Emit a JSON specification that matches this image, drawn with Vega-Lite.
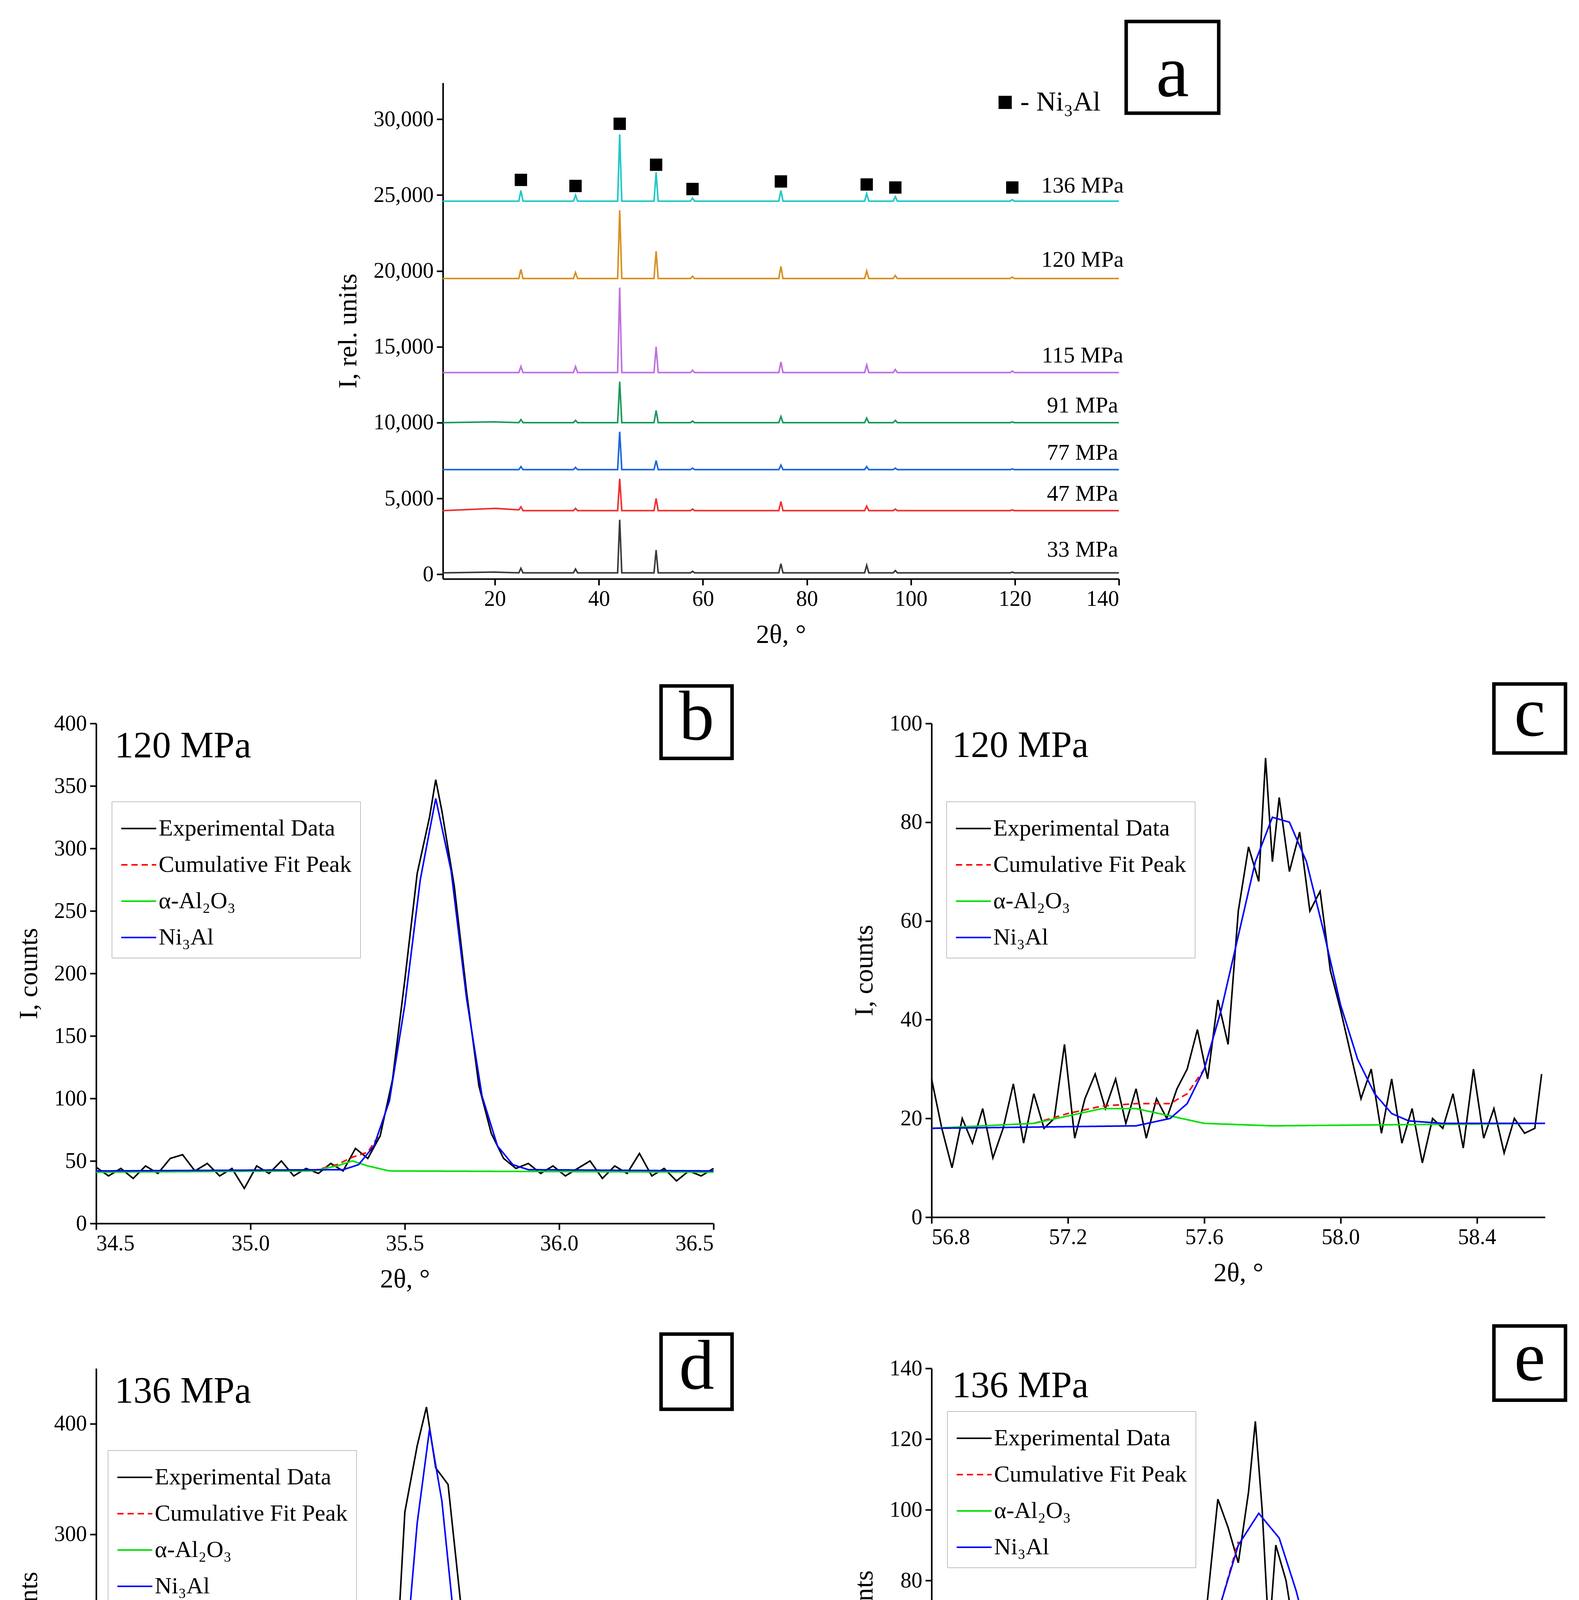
{
"$schema":"https://vega.github.io/schema/vega-lite/v6.json",
"background":"white",
"padding":{"left":40,"top":50,"right":40,"bottom":20},
"config":{"font":"Liberation Serif","view":{"stroke":null},
"axis":{"domainColor":"black","domainWidth":4,"tickColor":"black","tickWidth":4,"tickSize":16,"labelFontSize":56,"titleFontSize":68,"titleFontWeight":"normal","labelColor":"black","titleColor":"black","grid":false,"labelPadding":8,"titlePadding":30},
"legend":{"labelFontSize":60,"labelLimit":3000,"symbolType":"stroke","symbolSize":8000,"symbolStrokeWidth":4,"strokeColor":"#888888","padding":22,"rowPadding":16,"labelColor":"black"},
"text":{"font":"Liberation Serif","color":"black"}},
"datasets":{
"xrd":[
{"x":10,"s136":24600,"s120":19500,"s115":13300,"s91":10000,"s77":6900,"s47":4200,"s33":100},
{"x":20,"s136":24600,"s120":19500,"s115":13300,"s91":10050,"s77":6900,"s47":4350,"s33":150},
{"x":24.6,"s136":24600,"s120":19500,"s115":13300,"s91":10000,"s77":6900,"s47":4250,"s33":100},
{"x":25,"s136":25300,"s120":20100,"s115":13700,"s91":10200,"s77":7100,"s47":4450,"s33":400},
{"x":25.4,"s136":24600,"s120":19500,"s115":13300,"s91":10000,"s77":6900,"s47":4200,"s33":100},
{"x":35.1,"s136":24600,"s120":19500,"s115":13300,"s91":10000,"s77":6900,"s47":4200,"s33":100},
{"x":35.5,"s136":25000,"s120":19900,"s115":13700,"s91":10150,"s77":7050,"s47":4350,"s33":350},
{"x":35.9,"s136":24600,"s120":19500,"s115":13300,"s91":10000,"s77":6900,"s47":4200,"s33":100},
{"x":43.6,"s136":24600,"s120":19500,"s115":13300,"s91":10000,"s77":6900,"s47":4200,"s33":100},
{"x":44,"s136":29000,"s120":24000,"s115":18900,"s91":12700,"s77":9400,"s47":6300,"s33":3600},
{"x":44.4,"s136":24600,"s120":19500,"s115":13300,"s91":10000,"s77":6900,"s47":4200,"s33":100},
{"x":50.6,"s136":24600,"s120":19500,"s115":13300,"s91":10000,"s77":6900,"s47":4200,"s33":100},
{"x":51,"s136":26500,"s120":21300,"s115":15000,"s91":10800,"s77":7500,"s47":5000,"s33":1600},
{"x":51.4,"s136":24600,"s120":19500,"s115":13300,"s91":10000,"s77":6900,"s47":4200,"s33":100},
{"x":57.6,"s136":24600,"s120":19500,"s115":13300,"s91":10000,"s77":6900,"s47":4200,"s33":100},
{"x":58,"s136":24800,"s120":19650,"s115":13450,"s91":10100,"s77":7000,"s47":4300,"s33":200},
{"x":58.4,"s136":24600,"s120":19500,"s115":13300,"s91":10000,"s77":6900,"s47":4200,"s33":100},
{"x":74.6,"s136":24600,"s120":19500,"s115":13300,"s91":10000,"s77":6900,"s47":4200,"s33":100},
{"x":75,"s136":25300,"s120":20300,"s115":14000,"s91":10400,"s77":7200,"s47":4800,"s33":700},
{"x":75.4,"s136":24600,"s120":19500,"s115":13300,"s91":10000,"s77":6900,"s47":4200,"s33":100},
{"x":91.1,"s136":24600,"s120":19500,"s115":13300,"s91":10000,"s77":6900,"s47":4200,"s33":100},
{"x":91.5,"s136":25100,"s120":20000,"s115":13800,"s91":10300,"s77":7100,"s47":4500,"s33":600},
{"x":91.9,"s136":24600,"s120":19500,"s115":13300,"s91":10000,"s77":6900,"s47":4200,"s33":100},
{"x":96.6,"s136":24600,"s120":19500,"s115":13300,"s91":10000,"s77":6900,"s47":4200,"s33":100},
{"x":97,"s136":24900,"s120":19700,"s115":13500,"s91":10150,"s77":7000,"s47":4300,"s33":250},
{"x":97.4,"s136":24600,"s120":19500,"s115":13300,"s91":10000,"s77":6900,"s47":4200,"s33":100},
{"x":119.1,"s136":24600,"s120":19500,"s115":13300,"s91":10000,"s77":6900,"s47":4200,"s33":100},
{"x":119.5,"s136":24700,"s120":19600,"s115":13400,"s91":10050,"s77":6950,"s47":4250,"s33":150},
{"x":119.9,"s136":24600,"s120":19500,"s115":13300,"s91":10000,"s77":6900,"s47":4200,"s33":100},
{"x":140,"s136":24600,"s120":19500,"s115":13300,"s91":10000,"s77":6900,"s47":4200,"s33":100}
],
"fit":[
{"p":"b","s":"E","x":34.50,"y":45},{"p":"b","s":"E","x":34.54,"y":38},{"p":"b","s":"E","x":34.58,"y":44},{"p":"b","s":"E","x":34.62,"y":36},{"p":"b","s":"E","x":34.66,"y":46},{"p":"b","s":"E","x":34.70,"y":40},{"p":"b","s":"E","x":34.74,"y":52},{"p":"b","s":"E","x":34.78,"y":55},{"p":"b","s":"E","x":34.82,"y":42},{"p":"b","s":"E","x":34.86,"y":48},{"p":"b","s":"E","x":34.90,"y":38},{"p":"b","s":"E","x":34.94,"y":44},{"p":"b","s":"E","x":34.98,"y":28},{"p":"b","s":"E","x":35.02,"y":46},{"p":"b","s":"E","x":35.06,"y":40},{"p":"b","s":"E","x":35.10,"y":50},{"p":"b","s":"E","x":35.14,"y":38},{"p":"b","s":"E","x":35.18,"y":44},{"p":"b","s":"E","x":35.22,"y":40},{"p":"b","s":"E","x":35.26,"y":48},{"p":"b","s":"E","x":35.30,"y":42},{"p":"b","s":"E","x":35.34,"y":60},{"p":"b","s":"E","x":35.38,"y":52},{"p":"b","s":"E","x":35.42,"y":70},{"p":"b","s":"E","x":35.46,"y":115},{"p":"b","s":"E","x":35.50,"y":195},{"p":"b","s":"E","x":35.54,"y":280},{"p":"b","s":"E","x":35.58,"y":325},{"p":"b","s":"E","x":35.60,"y":355},{"p":"b","s":"E","x":35.62,"y":330},{"p":"b","s":"E","x":35.66,"y":270},{"p":"b","s":"E","x":35.70,"y":185},{"p":"b","s":"E","x":35.74,"y":110},{"p":"b","s":"E","x":35.78,"y":72},{"p":"b","s":"E","x":35.82,"y":52},{"p":"b","s":"E","x":35.86,"y":44},{"p":"b","s":"E","x":35.90,"y":48},{"p":"b","s":"E","x":35.94,"y":40},{"p":"b","s":"E","x":35.98,"y":46},{"p":"b","s":"E","x":36.02,"y":38},{"p":"b","s":"E","x":36.06,"y":44},{"p":"b","s":"E","x":36.10,"y":50},{"p":"b","s":"E","x":36.14,"y":36},{"p":"b","s":"E","x":36.18,"y":46},{"p":"b","s":"E","x":36.22,"y":40},{"p":"b","s":"E","x":36.26,"y":56},{"p":"b","s":"E","x":36.30,"y":38},{"p":"b","s":"E","x":36.34,"y":44},{"p":"b","s":"E","x":36.38,"y":34},{"p":"b","s":"E","x":36.42,"y":42},{"p":"b","s":"E","x":36.46,"y":38},{"p":"b","s":"E","x":36.50,"y":44},
{"p":"b","s":"C","x":35.2,"y":42},{"p":"b","s":"C","x":35.28,"y":47},{"p":"b","s":"C","x":35.33,"y":53},{"p":"b","s":"C","x":35.38,"y":57},{"p":"b","s":"C","x":35.42,"y":72},
{"p":"b","s":"A","x":34.5,"y":41},{"p":"b","s":"A","x":35.2,"y":42},{"p":"b","s":"A","x":35.28,"y":46},{"p":"b","s":"A","x":35.33,"y":50},{"p":"b","s":"A","x":35.38,"y":46},{"p":"b","s":"A","x":35.45,"y":42},{"p":"b","s":"A","x":36.5,"y":41},
{"p":"b","s":"N","x":34.5,"y":42},{"p":"b","s":"N","x":35.3,"y":43},{"p":"b","s":"N","x":35.35,"y":47},{"p":"b","s":"N","x":35.4,"y":62},{"p":"b","s":"N","x":35.45,"y":98},{"p":"b","s":"N","x":35.5,"y":175},{"p":"b","s":"N","x":35.55,"y":275},{"p":"b","s":"N","x":35.6,"y":340},{"p":"b","s":"N","x":35.65,"y":282},{"p":"b","s":"N","x":35.7,"y":180},{"p":"b","s":"N","x":35.75,"y":102},{"p":"b","s":"N","x":35.8,"y":62},{"p":"b","s":"N","x":35.85,"y":47},{"p":"b","s":"N","x":35.9,"y":43},{"p":"b","s":"N","x":36.5,"y":42},
{"p":"c","s":"E","x":56.80,"y":28},{"p":"c","s":"E","x":56.83,"y":18},{"p":"c","s":"E","x":56.86,"y":10},{"p":"c","s":"E","x":56.89,"y":20},{"p":"c","s":"E","x":56.92,"y":15},{"p":"c","s":"E","x":56.95,"y":22},{"p":"c","s":"E","x":56.98,"y":12},{"p":"c","s":"E","x":57.01,"y":18},{"p":"c","s":"E","x":57.04,"y":27},{"p":"c","s":"E","x":57.07,"y":15},{"p":"c","s":"E","x":57.10,"y":25},{"p":"c","s":"E","x":57.13,"y":18},{"p":"c","s":"E","x":57.16,"y":20},{"p":"c","s":"E","x":57.19,"y":35},{"p":"c","s":"E","x":57.22,"y":16},{"p":"c","s":"E","x":57.25,"y":24},{"p":"c","s":"E","x":57.28,"y":29},{"p":"c","s":"E","x":57.31,"y":22},{"p":"c","s":"E","x":57.34,"y":28},{"p":"c","s":"E","x":57.37,"y":19},{"p":"c","s":"E","x":57.40,"y":26},{"p":"c","s":"E","x":57.43,"y":16},{"p":"c","s":"E","x":57.46,"y":24},{"p":"c","s":"E","x":57.49,"y":20},{"p":"c","s":"E","x":57.52,"y":26},{"p":"c","s":"E","x":57.55,"y":30},{"p":"c","s":"E","x":57.58,"y":38},{"p":"c","s":"E","x":57.61,"y":28},{"p":"c","s":"E","x":57.64,"y":44},{"p":"c","s":"E","x":57.67,"y":35},{"p":"c","s":"E","x":57.70,"y":62},{"p":"c","s":"E","x":57.73,"y":75},{"p":"c","s":"E","x":57.76,"y":68},{"p":"c","s":"E","x":57.78,"y":93},{"p":"c","s":"E","x":57.80,"y":72},{"p":"c","s":"E","x":57.82,"y":85},{"p":"c","s":"E","x":57.85,"y":70},{"p":"c","s":"E","x":57.88,"y":78},{"p":"c","s":"E","x":57.91,"y":62},{"p":"c","s":"E","x":57.94,"y":66},{"p":"c","s":"E","x":57.97,"y":50},{"p":"c","s":"E","x":58.00,"y":42},{"p":"c","s":"E","x":58.03,"y":33},{"p":"c","s":"E","x":58.06,"y":24},{"p":"c","s":"E","x":58.09,"y":30},{"p":"c","s":"E","x":58.12,"y":17},{"p":"c","s":"E","x":58.15,"y":28},{"p":"c","s":"E","x":58.18,"y":15},{"p":"c","s":"E","x":58.21,"y":22},{"p":"c","s":"E","x":58.24,"y":11},{"p":"c","s":"E","x":58.27,"y":20},{"p":"c","s":"E","x":58.30,"y":18},{"p":"c","s":"E","x":58.33,"y":25},{"p":"c","s":"E","x":58.36,"y":14},{"p":"c","s":"E","x":58.39,"y":30},{"p":"c","s":"E","x":58.42,"y":16},{"p":"c","s":"E","x":58.45,"y":22},{"p":"c","s":"E","x":58.48,"y":13},{"p":"c","s":"E","x":58.51,"y":20},{"p":"c","s":"E","x":58.54,"y":17},{"p":"c","s":"E","x":58.57,"y":18},{"p":"c","s":"E","x":58.59,"y":29},
{"p":"c","s":"C","x":57.1,"y":19},{"p":"c","s":"C","x":57.2,"y":21},{"p":"c","s":"C","x":57.3,"y":22.5},{"p":"c","s":"C","x":57.4,"y":23},{"p":"c","s":"C","x":57.5,"y":23},{"p":"c","s":"C","x":57.55,"y":25},{"p":"c","s":"C","x":57.6,"y":30},{"p":"c","s":"C","x":57.65,"y":42},
{"p":"c","s":"A","x":56.8,"y":18},{"p":"c","s":"A","x":57.1,"y":19},{"p":"c","s":"A","x":57.2,"y":20.5},{"p":"c","s":"A","x":57.3,"y":22},{"p":"c","s":"A","x":57.4,"y":22},{"p":"c","s":"A","x":57.5,"y":20.5},{"p":"c","s":"A","x":57.6,"y":19},{"p":"c","s":"A","x":57.8,"y":18.5},{"p":"c","s":"A","x":58.6,"y":19},
{"p":"c","s":"N","x":56.8,"y":18},{"p":"c","s":"N","x":57.4,"y":18.5},{"p":"c","s":"N","x":57.5,"y":20},{"p":"c","s":"N","x":57.55,"y":23},{"p":"c","s":"N","x":57.6,"y":30},{"p":"c","s":"N","x":57.65,"y":42},{"p":"c","s":"N","x":57.7,"y":57},{"p":"c","s":"N","x":57.75,"y":72},{"p":"c","s":"N","x":57.8,"y":81},{"p":"c","s":"N","x":57.85,"y":80},{"p":"c","s":"N","x":57.9,"y":72},{"p":"c","s":"N","x":57.95,"y":58},{"p":"c","s":"N","x":58.0,"y":43},{"p":"c","s":"N","x":58.05,"y":32},{"p":"c","s":"N","x":58.1,"y":25},{"p":"c","s":"N","x":58.15,"y":21},{"p":"c","s":"N","x":58.2,"y":19.5},{"p":"c","s":"N","x":58.3,"y":19},{"p":"c","s":"N","x":58.6,"y":19},
{"p":"d","s":"E","x":34.50,"y":40},{"p":"d","s":"E","x":34.54,"y":44},{"p":"d","s":"E","x":34.58,"y":38},{"p":"d","s":"E","x":34.62,"y":46},{"p":"d","s":"E","x":34.66,"y":36},{"p":"d","s":"E","x":34.70,"y":42},{"p":"d","s":"E","x":34.74,"y":48},{"p":"d","s":"E","x":34.78,"y":38},{"p":"d","s":"E","x":34.82,"y":44},{"p":"d","s":"E","x":34.86,"y":40},{"p":"d","s":"E","x":34.90,"y":48},{"p":"d","s":"E","x":34.94,"y":42},{"p":"d","s":"E","x":34.98,"y":38},{"p":"d","s":"E","x":35.02,"y":50},{"p":"d","s":"E","x":35.06,"y":36},{"p":"d","s":"E","x":35.10,"y":46},{"p":"d","s":"E","x":35.14,"y":40},{"p":"d","s":"E","x":35.18,"y":52},{"p":"d","s":"E","x":35.22,"y":38},{"p":"d","s":"E","x":35.26,"y":48},{"p":"d","s":"E","x":35.30,"y":62},{"p":"d","s":"E","x":35.34,"y":65},{"p":"d","s":"E","x":35.38,"y":45},{"p":"d","s":"E","x":35.42,"y":80},{"p":"d","s":"E","x":35.46,"y":120},{"p":"d","s":"E","x":35.50,"y":320},{"p":"d","s":"E","x":35.54,"y":380},{"p":"d","s":"E","x":35.57,"y":415},{"p":"d","s":"E","x":35.60,"y":360},{"p":"d","s":"E","x":35.64,"y":345},{"p":"d","s":"E","x":35.68,"y":240},{"p":"d","s":"E","x":35.72,"y":180},{"p":"d","s":"E","x":35.76,"y":100},{"p":"d","s":"E","x":35.80,"y":65},{"p":"d","s":"E","x":35.84,"y":45},{"p":"d","s":"E","x":35.88,"y":58},{"p":"d","s":"E","x":35.92,"y":38},{"p":"d","s":"E","x":35.96,"y":28},{"p":"d","s":"E","x":36.00,"y":48},{"p":"d","s":"E","x":36.04,"y":36},{"p":"d","s":"E","x":36.08,"y":44},{"p":"d","s":"E","x":36.12,"y":40},{"p":"d","s":"E","x":36.16,"y":46},{"p":"d","s":"E","x":36.20,"y":38},{"p":"d","s":"E","x":36.24,"y":60},{"p":"d","s":"E","x":36.28,"y":40},{"p":"d","s":"E","x":36.32,"y":44},{"p":"d","s":"E","x":36.36,"y":36},{"p":"d","s":"E","x":36.40,"y":48},{"p":"d","s":"E","x":36.44,"y":38},{"p":"d","s":"E","x":36.48,"y":42},{"p":"d","s":"E","x":36.50,"y":30},
{"p":"d","s":"C","x":35.2,"y":44},{"p":"d","s":"C","x":35.27,"y":53},{"p":"d","s":"C","x":35.32,"y":58},{"p":"d","s":"C","x":35.38,"y":50},{"p":"d","s":"C","x":35.43,"y":62},
{"p":"d","s":"A","x":34.5,"y":42},{"p":"d","s":"A","x":35.2,"y":44},{"p":"d","s":"A","x":35.27,"y":52},{"p":"d","s":"A","x":35.32,"y":56},{"p":"d","s":"A","x":35.37,"y":46},{"p":"d","s":"A","x":35.43,"y":42},{"p":"d","s":"A","x":36.5,"y":40},
{"p":"d","s":"N","x":34.5,"y":42},{"p":"d","s":"N","x":35.3,"y":42},{"p":"d","s":"N","x":35.38,"y":45},{"p":"d","s":"N","x":35.43,"y":60},{"p":"d","s":"N","x":35.47,"y":110},{"p":"d","s":"N","x":35.5,"y":180},{"p":"d","s":"N","x":35.54,"y":310},{"p":"d","s":"N","x":35.58,"y":395},{"p":"d","s":"N","x":35.62,"y":330},{"p":"d","s":"N","x":35.66,"y":220},{"p":"d","s":"N","x":35.7,"y":130},{"p":"d","s":"N","x":35.74,"y":75},{"p":"d","s":"N","x":35.78,"y":50},{"p":"d","s":"N","x":35.82,"y":43},{"p":"d","s":"N","x":36.5,"y":40},
{"p":"e","s":"E","x":56.80,"y":18},{"p":"e","s":"E","x":56.83,"y":22},{"p":"e","s":"E","x":56.86,"y":15},{"p":"e","s":"E","x":56.89,"y":24},{"p":"e","s":"E","x":56.92,"y":18},{"p":"e","s":"E","x":56.95,"y":25},{"p":"e","s":"E","x":56.98,"y":34},{"p":"e","s":"E","x":57.01,"y":16},{"p":"e","s":"E","x":57.04,"y":26},{"p":"e","s":"E","x":57.07,"y":20},{"p":"e","s":"E","x":57.10,"y":30},{"p":"e","s":"E","x":57.13,"y":18},{"p":"e","s":"E","x":57.16,"y":24},{"p":"e","s":"E","x":57.19,"y":20},{"p":"e","s":"E","x":57.22,"y":30},{"p":"e","s":"E","x":57.25,"y":18},{"p":"e","s":"E","x":57.28,"y":22},{"p":"e","s":"E","x":57.31,"y":26},{"p":"e","s":"E","x":57.34,"y":18},{"p":"e","s":"E","x":57.37,"y":24},{"p":"e","s":"E","x":57.40,"y":20},{"p":"e","s":"E","x":57.43,"y":28},{"p":"e","s":"E","x":57.46,"y":24},{"p":"e","s":"E","x":57.49,"y":30},{"p":"e","s":"E","x":57.52,"y":32},{"p":"e","s":"E","x":57.55,"y":40},{"p":"e","s":"E","x":57.58,"y":48},{"p":"e","s":"E","x":57.61,"y":75},{"p":"e","s":"E","x":57.64,"y":103},{"p":"e","s":"E","x":57.67,"y":95},{"p":"e","s":"E","x":57.70,"y":85},{"p":"e","s":"E","x":57.73,"y":105},{"p":"e","s":"E","x":57.75,"y":125},{"p":"e","s":"E","x":57.77,"y":100},{"p":"e","s":"E","x":57.79,"y":64},{"p":"e","s":"E","x":57.81,"y":90},{"p":"e","s":"E","x":57.84,"y":80},{"p":"e","s":"E","x":57.87,"y":62},{"p":"e","s":"E","x":57.90,"y":70},{"p":"e","s":"E","x":57.93,"y":45},{"p":"e","s":"E","x":57.96,"y":36},{"p":"e","s":"E","x":57.99,"y":32},{"p":"e","s":"E","x":58.02,"y":25},{"p":"e","s":"E","x":58.05,"y":17},{"p":"e","s":"E","x":58.08,"y":25},{"p":"e","s":"E","x":58.11,"y":20},{"p":"e","s":"E","x":58.14,"y":26},{"p":"e","s":"E","x":58.17,"y":15},{"p":"e","s":"E","x":58.20,"y":22},{"p":"e","s":"E","x":58.23,"y":18},{"p":"e","s":"E","x":58.26,"y":25},{"p":"e","s":"E","x":58.29,"y":15},{"p":"e","s":"E","x":58.32,"y":22},{"p":"e","s":"E","x":58.35,"y":18},{"p":"e","s":"E","x":58.38,"y":26},{"p":"e","s":"E","x":58.41,"y":14},{"p":"e","s":"E","x":58.44,"y":24},{"p":"e","s":"E","x":58.47,"y":10},{"p":"e","s":"E","x":58.50,"y":22},{"p":"e","s":"E","x":58.53,"y":16},{"p":"e","s":"E","x":58.56,"y":20},{"p":"e","s":"E","x":58.59,"y":24},
{"p":"e","s":"C","x":57.4,"y":23},{"p":"e","s":"C","x":57.5,"y":32},{"p":"e","s":"C","x":57.6,"y":57},{"p":"e","s":"C","x":57.7,"y":91},
{"p":"e","s":"A","x":56.8,"y":20},{"p":"e","s":"A","x":57.6,"y":21},{"p":"e","s":"A","x":58.0,"y":20},{"p":"e","s":"A","x":58.6,"y":19},
{"p":"e","s":"N","x":56.8,"y":20},{"p":"e","s":"N","x":57.3,"y":20.5},{"p":"e","s":"N","x":57.4,"y":22},{"p":"e","s":"N","x":57.45,"y":25},{"p":"e","s":"N","x":57.5,"y":31},{"p":"e","s":"N","x":57.55,"y":41},{"p":"e","s":"N","x":57.6,"y":56},{"p":"e","s":"N","x":57.65,"y":74},{"p":"e","s":"N","x":57.7,"y":90},{"p":"e","s":"N","x":57.76,"y":99},{"p":"e","s":"N","x":57.82,"y":92},{"p":"e","s":"N","x":57.87,"y":77},{"p":"e","s":"N","x":57.92,"y":58},{"p":"e","s":"N","x":57.97,"y":42},{"p":"e","s":"N","x":58.02,"y":30},{"p":"e","s":"N","x":58.07,"y":23},{"p":"e","s":"N","x":58.12,"y":20},{"p":"e","s":"N","x":58.2,"y":19},{"p":"e","s":"N","x":58.6,"y":19}
],
"boxes":[
{"p":"b","t":"b","x":36.33,"x2":36.56,"y":372,"y2":430,"m":"120 MPa","mx":34.56,"my":382},
{"p":"c","t":"c","x":58.45,"x2":58.66,"y":94,"y2":108,"m":"120 MPa","mx":56.86,"my":95.5},
{"p":"d","t":"d","x":36.33,"x2":36.56,"y":413,"y2":481,"m":"136 MPa","mx":34.56,"my":429},
{"p":"e","t":"e","x":58.45,"x2":58.66,"y":131,"y2":152,"m":"136 MPa","mx":56.86,"my":135}
]
},
"vconcat":[
{"width":1730,"height":1270,
"layer":[
{"data":{"name":"xrd"},"transform":[{"fold":["s33","s47","s77","s91","s115","s120","s136"],"as":["s","y"]}],
"mark":{"type":"line","strokeWidth":4},
"encoding":{"x":{"field":"x","type":"quantitative","scale":{"domain":[10,140],"nice":false},"axis":{"values":[20,40,60,80,100,120,140],"title":"2θ, °"}},
"y":{"field":"y","type":"quantitative","scale":{"domain":[-300,32400],"nice":false},"axis":{"values":[0,5000,10000,15000,20000,25000,30000],"format":",d","title":"I, rel. units"}},
"color":{"field":"s","type":"nominal","legend":null,"scale":{"domain":["s33","s47","s77","s91","s115","s120","s136"],"range":["#3a3a3a","#f03030","#1a66e0","#1a9a5a","#c070e0","#d89020","#20c8c8"]}}}},
{"data":{"values":[{"x":25,"y":26000},{"x":35.5,"y":25600},{"x":44,"y":29700},{"x":51,"y":27000},{"x":58,"y":25400},{"x":75,"y":25900},{"x":91.5,"y":25700},{"x":97,"y":25500},{"x":119.5,"y":25500}]},
"mark":{"type":"square","size":1000,"color":"black","opacity":1,"filled":true},
"encoding":{"x":{"field":"x","type":"quantitative"},"y":{"field":"y","type":"quantitative"}}},
{"data":{"values":[{"x":133,"y":25600,"t":"136 MPa"},{"x":133,"y":20700,"t":"120 MPa"},{"x":133,"y":14400,"t":"115 MPa"},{"x":133,"y":11100,"t":"91 MPa"},{"x":133,"y":8000,"t":"77 MPa"},{"x":133,"y":5300,"t":"47 MPa"},{"x":133,"y":1600,"t":"33 MPa"}]},
"mark":{"type":"text","fontSize":58,"align":"center"},
"encoding":{"x":{"field":"x","type":"quantitative"},"y":{"field":"y","type":"quantitative"},"text":{"field":"t"}}},
{"data":{"values":[{"x":126.5,"y":31100,"t":"■ - Ni₃Al"}]},
"mark":{"type":"text","fontSize":70,"align":"center"},
"encoding":{"x":{"field":"x","type":"quantitative"},"y":{"field":"y","type":"quantitative"},"text":{"field":"t"}}},
{"data":{"values":[{"x":141.4,"x2":159.2,"y":30400,"y2":36440}]},
"mark":{"type":"rect","fill":"white","stroke":"black","strokeWidth":9,"clip":false},
"encoding":{"x":{"field":"x","type":"quantitative"},"x2":{"field":"x2"},"y":{"field":"y","type":"quantitative"},"y2":{"field":"y2"}}},
{"data":{"values":[{"x":150.3,"y":33000,"t":"a"}]},
"mark":{"type":"text","fontSize":190,"align":"center","baseline":"middle"},
"encoding":{"x":{"field":"x","type":"quantitative"},"y":{"field":"y","type":"quantitative"},"text":{"field":"t"}}}
]},
{"hconcat":[
{"width":1580,"height":1280,"layer":[
{"data":{"name":"fit"},"transform":[{"filter":"datum.p=='b'"}],"mark":{"type":"line","strokeWidth":4},
"encoding":{"x":{"field":"x","type":"quantitative","scale":{"domain":[34.5,36.5],"nice":false},"axis":{"values":[34.5,35,35.5,36,36.5],"format":".1f","title":"2θ, °"}},
"y":{"field":"y","type":"quantitative","scale":{"domain":[0,400],"nice":false},"axis":{"values":[0,50,100,150,200,250,300,350,400],"title":"I, counts"}},
"color":{"field":"s","type":"nominal","scale":{"domain":["E","C","A","N"],"range":["black","red","#00e000","blue"]},"legend":{"title":null,"orient":"none","legendX":40,"legendY":200,"labelExpr":"{'E':'Experimental Data','C':'Cumulative Fit Peak','A':'α-Al₂O₃','N':'Ni₃Al'}[datum.value]"}},
"strokeDash":{"field":"s","type":"nominal","scale":{"domain":["E","C","A","N"],"range":[[1,0],[16,10],[1,0],[1,0]]},"legend":{"title":null,"orient":"none","legendX":40,"legendY":200,"labelExpr":"{'E':'Experimental Data','C':'Cumulative Fit Peak','A':'α-Al₂O₃','N':'Ni₃Al'}[datum.value]"}}}},
{"data":{"name":"boxes"},"transform":[{"filter":"datum.p=='b'"}],"mark":{"type":"rect","fill":"white","stroke":"black","strokeWidth":9,"clip":false},"encoding":{"x":{"field":"x","type":"quantitative"},"x2":{"field":"x2"},"y":{"field":"y","type":"quantitative"},"y2":{"field":"y2"}}},
{"data":{"name":"boxes"},"transform":[{"filter":"datum.p=='b'"},{"calculate":"(datum.x+datum.x2)/2","as":"cx"},{"calculate":"(datum.y+datum.y2)/2","as":"cy"}],"mark":{"type":"text","fontSize":180,"align":"center","baseline":"middle","dy":-10},"encoding":{"x":{"field":"cx","type":"quantitative"},"y":{"field":"cy","type":"quantitative"},"text":{"field":"t"}}},
{"data":{"name":"boxes"},"transform":[{"filter":"datum.p=='b'"}],"mark":{"type":"text","fontSize":96,"align":"left","baseline":"middle"},"encoding":{"x":{"field":"mx","type":"quantitative"},"y":{"field":"my","type":"quantitative"},"text":{"field":"m"}}}
]},
{"width":1570,"height":1264,"layer":[
{"data":{"name":"fit"},"transform":[{"filter":"datum.p=='c'"}],"mark":{"type":"line","strokeWidth":4},
"encoding":{"x":{"field":"x","type":"quantitative","scale":{"domain":[56.8,58.6],"nice":false},"axis":{"values":[56.8,57.2,57.6,58.0,58.4],"format":".1f","title":"2θ, °"}},
"y":{"field":"y","type":"quantitative","scale":{"domain":[0,100],"nice":false},"axis":{"values":[0,20,40,60,80,100],"title":"I, counts"}},
"color":{"field":"s","type":"nominal","scale":{"domain":["E","C","A","N"],"range":["black","red","#00e000","blue"]},"legend":{"title":null,"orient":"none","legendX":38,"legendY":200,"labelExpr":"{'E':'Experimental Data','C':'Cumulative Fit Peak','A':'α-Al₂O₃','N':'Ni₃Al'}[datum.value]"}},
"strokeDash":{"field":"s","type":"nominal","scale":{"domain":["E","C","A","N"],"range":[[1,0],[16,10],[1,0],[1,0]]},"legend":{"title":null,"orient":"none","legendX":38,"legendY":200,"labelExpr":"{'E':'Experimental Data','C':'Cumulative Fit Peak','A':'α-Al₂O₃','N':'Ni₃Al'}[datum.value]"}}}},
{"data":{"name":"boxes"},"transform":[{"filter":"datum.p=='c'"}],"mark":{"type":"rect","fill":"white","stroke":"black","strokeWidth":9,"clip":false},"encoding":{"x":{"field":"x","type":"quantitative"},"x2":{"field":"x2"},"y":{"field":"y","type":"quantitative"},"y2":{"field":"y2"}}},
{"data":{"name":"boxes"},"transform":[{"filter":"datum.p=='c'"},{"calculate":"(datum.x+datum.x2)/2","as":"cx"},{"calculate":"(datum.y+datum.y2)/2","as":"cy"}],"mark":{"type":"text","fontSize":180,"align":"center","baseline":"middle","dy":-10},"encoding":{"x":{"field":"cx","type":"quantitative"},"y":{"field":"cy","type":"quantitative"},"text":{"field":"t"}}},
{"data":{"name":"boxes"},"transform":[{"filter":"datum.p=='c'"}],"mark":{"type":"text","fontSize":96,"align":"left","baseline":"middle"},"encoding":{"x":{"field":"mx","type":"quantitative"},"y":{"field":"my","type":"quantitative"},"text":{"field":"m"}}}
]}
],"spacing":300,"resolve":{"scale":{"x":"independent","y":"independent","color":"independent","strokeDash":"independent"},"legend":{"color":"independent","strokeDash":"independent"}}},
{"hconcat":[
{"width":1580,"height":1274,"layer":[
{"data":{"name":"fit"},"transform":[{"filter":"datum.p=='d'"}],"mark":{"type":"line","strokeWidth":4},
"encoding":{"x":{"field":"x","type":"quantitative","scale":{"domain":[34.5,36.5],"nice":false},"axis":{"values":[34.5,35,35.5,36,36.5],"format":".1f","title":"2θ, °"}},
"y":{"field":"y","type":"quantitative","scale":{"domain":[0,450],"nice":false},"axis":{"values":[0,100,200,300,400],"title":"I, counts"}},
"color":{"field":"s","type":"nominal","scale":{"domain":["E","C","A","N"],"range":["black","red","#00e000","blue"]},"legend":{"title":null,"orient":"none","legendX":30,"legendY":210,"labelExpr":"{'E':'Experimental Data','C':'Cumulative Fit Peak','A':'α-Al₂O₃','N':'Ni₃Al'}[datum.value]"}},
"strokeDash":{"field":"s","type":"nominal","scale":{"domain":["E","C","A","N"],"range":[[1,0],[16,10],[1,0],[1,0]]},"legend":{"title":null,"orient":"none","legendX":30,"legendY":210,"labelExpr":"{'E':'Experimental Data','C':'Cumulative Fit Peak','A':'α-Al₂O₃','N':'Ni₃Al'}[datum.value]"}}}},
{"data":{"name":"boxes"},"transform":[{"filter":"datum.p=='d'"}],"mark":{"type":"rect","fill":"white","stroke":"black","strokeWidth":9,"clip":false},"encoding":{"x":{"field":"x","type":"quantitative"},"x2":{"field":"x2"},"y":{"field":"y","type":"quantitative"},"y2":{"field":"y2"}}},
{"data":{"name":"boxes"},"transform":[{"filter":"datum.p=='d'"},{"calculate":"(datum.x+datum.x2)/2","as":"cx"},{"calculate":"(datum.y+datum.y2)/2","as":"cy"}],"mark":{"type":"text","fontSize":180,"align":"center","baseline":"middle","dy":-10},"encoding":{"x":{"field":"cx","type":"quantitative"},"y":{"field":"cy","type":"quantitative"},"text":{"field":"t"}}},
{"data":{"name":"boxes"},"transform":[{"filter":"datum.p=='d'"}],"mark":{"type":"text","fontSize":96,"align":"left","baseline":"middle"},"encoding":{"x":{"field":"mx","type":"quantitative"},"y":{"field":"my","type":"quantitative"},"text":{"field":"m"}}}
]},
{"width":1570,"height":1267,"layer":[
{"data":{"name":"fit"},"transform":[{"filter":"datum.p=='e'"}],"mark":{"type":"line","strokeWidth":4},
"encoding":{"x":{"field":"x","type":"quantitative","scale":{"domain":[56.8,58.6],"nice":false},"axis":{"values":[56.8,57.2,57.6,58.0,58.4],"format":".1f","title":"2θ, °"}},
"y":{"field":"y","type":"quantitative","scale":{"domain":[0,140],"nice":false},"axis":{"values":[0,20,40,60,80,100,120,140],"title":"I, counts"}},
"color":{"field":"s","type":"nominal","scale":{"domain":["E","C","A","N"],"range":["black","red","#00e000","blue"]},"legend":{"title":null,"orient":"none","legendX":40,"legendY":110,"labelExpr":"{'E':'Experimental Data','C':'Cumulative Fit Peak','A':'α-Al₂O₃','N':'Ni₃Al'}[datum.value]"}},
"strokeDash":{"field":"s","type":"nominal","scale":{"domain":["E","C","A","N"],"range":[[1,0],[16,10],[1,0],[1,0]]},"legend":{"title":null,"orient":"none","legendX":40,"legendY":110,"labelExpr":"{'E':'Experimental Data','C':'Cumulative Fit Peak','A':'α-Al₂O₃','N':'Ni₃Al'}[datum.value]"}}}},
{"data":{"name":"boxes"},"transform":[{"filter":"datum.p=='e'"}],"mark":{"type":"rect","fill":"white","stroke":"black","strokeWidth":9,"clip":false},"encoding":{"x":{"field":"x","type":"quantitative"},"x2":{"field":"x2"},"y":{"field":"y","type":"quantitative"},"y2":{"field":"y2"}}},
{"data":{"name":"boxes"},"transform":[{"filter":"datum.p=='e'"},{"calculate":"(datum.x+datum.x2)/2","as":"cx"},{"calculate":"(datum.y+datum.y2)/2","as":"cy"}],"mark":{"type":"text","fontSize":180,"align":"center","baseline":"middle","dy":-10},"encoding":{"x":{"field":"cx","type":"quantitative"},"y":{"field":"cy","type":"quantitative"},"text":{"field":"t"}}},
{"data":{"name":"boxes"},"transform":[{"filter":"datum.p=='e'"}],"mark":{"type":"text","fontSize":96,"align":"left","baseline":"middle"},"encoding":{"x":{"field":"mx","type":"quantitative"},"y":{"field":"my","type":"quantitative"},"text":{"field":"m"}}}
]}
],"spacing":300,"resolve":{"scale":{"x":"independent","y":"independent","color":"independent","strokeDash":"independent"},"legend":{"color":"independent","strokeDash":"independent"}}}
],
"center":true,"spacing":80,
"resolve":{"scale":{"x":"independent","y":"independent","color":"independent","strokeDash":"independent"},"legend":{"color":"independent","strokeDash":"independent"}}
}
